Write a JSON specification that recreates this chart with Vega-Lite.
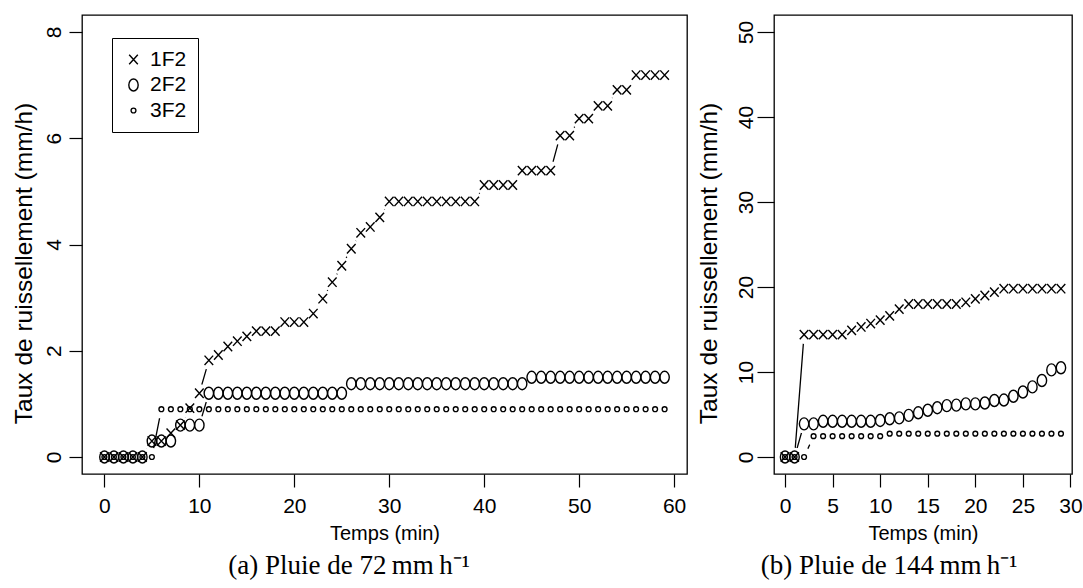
{
  "$schema": "https://vega.github.io/schema/vega-lite/v6.json",
  "background": "white",
  "padding": {"left": 10, "top": 14, "right": 6, "bottom": 6},
  "spacing": 7,
  "config": {
    "view": {"stroke": "black", "strokeWidth": 1.3},
    "font": "Liberation Sans",
    "axis": {"domain": false, "grid": false, "tickColor": "black", "tickWidth": 1.2, "tickSize": 13, "labelColor": "black", "labelFont": "Liberation Sans", "labelFontSize": 21, "titleFont": "Liberation Sans", "titleColor": "black", "titleFontWeight": "normal"},
    "title": {"font": "Liberation Serif", "fontSize": 27, "fontWeight": "normal", "color": "black", "orient": "bottom", "offset": 10, "frame": "bounds", "anchor": "middle"}
  },
  "resolve": {"scale": {"shape": "independent"}, "legend": {"shape": "independent"}},
  "datasets": {
    "a": [
      {"s": "1F2", "t": 0, "v": 0}, {"s": "1F2", "t": 1, "v": 0}, {"s": "1F2", "t": 2, "v": 0}, {"s": "1F2", "t": 3, "v": 0}, {"s": "1F2", "t": 4, "v": 0},
      {"s": "1F2", "t": 5, "v": 0.3}, {"s": "1F2", "t": 6, "v": 0.3}, {"s": "1F2", "t": 7, "v": 0.45}, {"s": "1F2", "t": 8, "v": 0.6}, {"s": "1F2", "t": 9, "v": 0.92},
      {"s": "1F2", "t": 10, "v": 1.2}, {"s": "1F2", "t": 11, "v": 1.82}, {"s": "1F2", "t": 12, "v": 1.92}, {"s": "1F2", "t": 13, "v": 2.08}, {"s": "1F2", "t": 14, "v": 2.18},
      {"s": "1F2", "t": 15, "v": 2.27}, {"s": "1F2", "t": 16, "v": 2.37}, {"s": "1F2", "t": 17, "v": 2.37}, {"s": "1F2", "t": 18, "v": 2.37}, {"s": "1F2", "t": 19, "v": 2.54},
      {"s": "1F2", "t": 20, "v": 2.54}, {"s": "1F2", "t": 21, "v": 2.54}, {"s": "1F2", "t": 22, "v": 2.7}, {"s": "1F2", "t": 23, "v": 2.98}, {"s": "1F2", "t": 24, "v": 3.29},
      {"s": "1F2", "t": 25, "v": 3.6}, {"s": "1F2", "t": 26, "v": 3.92}, {"s": "1F2", "t": 27, "v": 4.22}, {"s": "1F2", "t": 28, "v": 4.33}, {"s": "1F2", "t": 29, "v": 4.51},
      {"s": "1F2", "t": 30, "v": 4.81}, {"s": "1F2", "t": 31, "v": 4.81}, {"s": "1F2", "t": 32, "v": 4.81}, {"s": "1F2", "t": 33, "v": 4.81}, {"s": "1F2", "t": 34, "v": 4.81},
      {"s": "1F2", "t": 35, "v": 4.81}, {"s": "1F2", "t": 36, "v": 4.81}, {"s": "1F2", "t": 37, "v": 4.81}, {"s": "1F2", "t": 38, "v": 4.81}, {"s": "1F2", "t": 39, "v": 4.81},
      {"s": "1F2", "t": 40, "v": 5.12}, {"s": "1F2", "t": 41, "v": 5.12}, {"s": "1F2", "t": 42, "v": 5.12}, {"s": "1F2", "t": 43, "v": 5.12}, {"s": "1F2", "t": 44, "v": 5.39},
      {"s": "1F2", "t": 45, "v": 5.39}, {"s": "1F2", "t": 46, "v": 5.39}, {"s": "1F2", "t": 47, "v": 5.39}, {"s": "1F2", "t": 48, "v": 6.05}, {"s": "1F2", "t": 49, "v": 6.05},
      {"s": "1F2", "t": 50, "v": 6.37}, {"s": "1F2", "t": 51, "v": 6.37}, {"s": "1F2", "t": 52, "v": 6.61}, {"s": "1F2", "t": 53, "v": 6.61}, {"s": "1F2", "t": 54, "v": 6.91},
      {"s": "1F2", "t": 55, "v": 6.91}, {"s": "1F2", "t": 56, "v": 7.19}, {"s": "1F2", "t": 57, "v": 7.19}, {"s": "1F2", "t": 58, "v": 7.19}, {"s": "1F2", "t": 59, "v": 7.19},
      {"s": "2F2", "t": 0, "v": 0}, {"s": "2F2", "t": 1, "v": 0}, {"s": "2F2", "t": 2, "v": 0}, {"s": "2F2", "t": 3, "v": 0}, {"s": "2F2", "t": 4, "v": 0},
      {"s": "2F2", "t": 5, "v": 0.3}, {"s": "2F2", "t": 6, "v": 0.3}, {"s": "2F2", "t": 7, "v": 0.3}, {"s": "2F2", "t": 8, "v": 0.6}, {"s": "2F2", "t": 9, "v": 0.6},
      {"s": "2F2", "t": 10, "v": 0.6}, {"s": "2F2", "t": 11, "v": 1.2}, {"s": "2F2", "t": 12, "v": 1.2}, {"s": "2F2", "t": 13, "v": 1.2}, {"s": "2F2", "t": 14, "v": 1.2},
      {"s": "2F2", "t": 15, "v": 1.2}, {"s": "2F2", "t": 16, "v": 1.2}, {"s": "2F2", "t": 17, "v": 1.2}, {"s": "2F2", "t": 18, "v": 1.2}, {"s": "2F2", "t": 19, "v": 1.2},
      {"s": "2F2", "t": 20, "v": 1.2}, {"s": "2F2", "t": 21, "v": 1.2}, {"s": "2F2", "t": 22, "v": 1.2}, {"s": "2F2", "t": 23, "v": 1.2}, {"s": "2F2", "t": 24, "v": 1.2},
      {"s": "2F2", "t": 25, "v": 1.2}, {"s": "2F2", "t": 26, "v": 1.38}, {"s": "2F2", "t": 27, "v": 1.38}, {"s": "2F2", "t": 28, "v": 1.38}, {"s": "2F2", "t": 29, "v": 1.38},
      {"s": "2F2", "t": 30, "v": 1.38}, {"s": "2F2", "t": 31, "v": 1.38}, {"s": "2F2", "t": 32, "v": 1.38}, {"s": "2F2", "t": 33, "v": 1.38}, {"s": "2F2", "t": 34, "v": 1.38},
      {"s": "2F2", "t": 35, "v": 1.38}, {"s": "2F2", "t": 36, "v": 1.38}, {"s": "2F2", "t": 37, "v": 1.38}, {"s": "2F2", "t": 38, "v": 1.38}, {"s": "2F2", "t": 39, "v": 1.38},
      {"s": "2F2", "t": 40, "v": 1.38}, {"s": "2F2", "t": 41, "v": 1.38}, {"s": "2F2", "t": 42, "v": 1.38}, {"s": "2F2", "t": 43, "v": 1.38}, {"s": "2F2", "t": 44, "v": 1.38},
      {"s": "2F2", "t": 45, "v": 1.5}, {"s": "2F2", "t": 46, "v": 1.5}, {"s": "2F2", "t": 47, "v": 1.5}, {"s": "2F2", "t": 48, "v": 1.5}, {"s": "2F2", "t": 49, "v": 1.5},
      {"s": "2F2", "t": 50, "v": 1.5}, {"s": "2F2", "t": 51, "v": 1.5}, {"s": "2F2", "t": 52, "v": 1.5}, {"s": "2F2", "t": 53, "v": 1.5}, {"s": "2F2", "t": 54, "v": 1.5},
      {"s": "2F2", "t": 55, "v": 1.5}, {"s": "2F2", "t": 56, "v": 1.5}, {"s": "2F2", "t": 57, "v": 1.5}, {"s": "2F2", "t": 58, "v": 1.5}, {"s": "2F2", "t": 59, "v": 1.5},
      {"s": "3F2", "t": 0, "v": 0}, {"s": "3F2", "t": 1, "v": 0}, {"s": "3F2", "t": 2, "v": 0}, {"s": "3F2", "t": 3, "v": 0}, {"s": "3F2", "t": 4, "v": 0},
      {"s": "3F2", "t": 5, "v": 0}, {"s": "3F2", "t": 6, "v": 0.9}, {"s": "3F2", "t": 7, "v": 0.9}, {"s": "3F2", "t": 8, "v": 0.9}, {"s": "3F2", "t": 9, "v": 0.9},
      {"s": "3F2", "t": 10, "v": 0.9}, {"s": "3F2", "t": 11, "v": 0.9}, {"s": "3F2", "t": 12, "v": 0.9}, {"s": "3F2", "t": 13, "v": 0.9}, {"s": "3F2", "t": 14, "v": 0.9},
      {"s": "3F2", "t": 15, "v": 0.9}, {"s": "3F2", "t": 16, "v": 0.9}, {"s": "3F2", "t": 17, "v": 0.9}, {"s": "3F2", "t": 18, "v": 0.9}, {"s": "3F2", "t": 19, "v": 0.9},
      {"s": "3F2", "t": 20, "v": 0.9}, {"s": "3F2", "t": 21, "v": 0.9}, {"s": "3F2", "t": 22, "v": 0.9}, {"s": "3F2", "t": 23, "v": 0.9}, {"s": "3F2", "t": 24, "v": 0.9},
      {"s": "3F2", "t": 25, "v": 0.9}, {"s": "3F2", "t": 26, "v": 0.9}, {"s": "3F2", "t": 27, "v": 0.9}, {"s": "3F2", "t": 28, "v": 0.9}, {"s": "3F2", "t": 29, "v": 0.9},
      {"s": "3F2", "t": 30, "v": 0.9}, {"s": "3F2", "t": 31, "v": 0.9}, {"s": "3F2", "t": 32, "v": 0.9}, {"s": "3F2", "t": 33, "v": 0.9}, {"s": "3F2", "t": 34, "v": 0.9},
      {"s": "3F2", "t": 35, "v": 0.9}, {"s": "3F2", "t": 36, "v": 0.9}, {"s": "3F2", "t": 37, "v": 0.9}, {"s": "3F2", "t": 38, "v": 0.9}, {"s": "3F2", "t": 39, "v": 0.9},
      {"s": "3F2", "t": 40, "v": 0.9}, {"s": "3F2", "t": 41, "v": 0.9}, {"s": "3F2", "t": 42, "v": 0.9}, {"s": "3F2", "t": 43, "v": 0.9}, {"s": "3F2", "t": 44, "v": 0.9},
      {"s": "3F2", "t": 45, "v": 0.9}, {"s": "3F2", "t": 46, "v": 0.9}, {"s": "3F2", "t": 47, "v": 0.9}, {"s": "3F2", "t": 48, "v": 0.9}, {"s": "3F2", "t": 49, "v": 0.9},
      {"s": "3F2", "t": 50, "v": 0.9}, {"s": "3F2", "t": 51, "v": 0.9}, {"s": "3F2", "t": 52, "v": 0.9}, {"s": "3F2", "t": 53, "v": 0.9}, {"s": "3F2", "t": 54, "v": 0.9},
      {"s": "3F2", "t": 55, "v": 0.9}, {"s": "3F2", "t": 56, "v": 0.9}, {"s": "3F2", "t": 57, "v": 0.9}, {"s": "3F2", "t": 58, "v": 0.9}, {"s": "3F2", "t": 59, "v": 0.9}
    ],
    "b": [
      {"s": "1F2", "t": 0, "v": 0}, {"s": "1F2", "t": 1, "v": 0}, {"s": "1F2", "t": 2, "v": 14.4}, {"s": "1F2", "t": 3, "v": 14.4}, {"s": "1F2", "t": 4, "v": 14.4},
      {"s": "1F2", "t": 5, "v": 14.4}, {"s": "1F2", "t": 6, "v": 14.4}, {"s": "1F2", "t": 7, "v": 14.9}, {"s": "1F2", "t": 8, "v": 15.3}, {"s": "1F2", "t": 9, "v": 15.7},
      {"s": "1F2", "t": 10, "v": 16.1}, {"s": "1F2", "t": 11, "v": 16.6}, {"s": "1F2", "t": 12, "v": 17.4}, {"s": "1F2", "t": 13, "v": 18.0}, {"s": "1F2", "t": 14, "v": 18.0},
      {"s": "1F2", "t": 15, "v": 18.0}, {"s": "1F2", "t": 16, "v": 18.0}, {"s": "1F2", "t": 17, "v": 18.0}, {"s": "1F2", "t": 18, "v": 18.0}, {"s": "1F2", "t": 19, "v": 18.2},
      {"s": "1F2", "t": 20, "v": 18.6}, {"s": "1F2", "t": 21, "v": 19.0}, {"s": "1F2", "t": 22, "v": 19.4}, {"s": "1F2", "t": 23, "v": 19.8}, {"s": "1F2", "t": 24, "v": 19.8},
      {"s": "1F2", "t": 25, "v": 19.8}, {"s": "1F2", "t": 26, "v": 19.8}, {"s": "1F2", "t": 27, "v": 19.8}, {"s": "1F2", "t": 28, "v": 19.8}, {"s": "1F2", "t": 29, "v": 19.8},
      {"s": "2F2", "t": 0, "v": 0}, {"s": "2F2", "t": 1, "v": 0}, {"s": "2F2", "t": 2, "v": 3.9}, {"s": "2F2", "t": 3, "v": 3.9}, {"s": "2F2", "t": 4, "v": 4.2},
      {"s": "2F2", "t": 5, "v": 4.2}, {"s": "2F2", "t": 6, "v": 4.2}, {"s": "2F2", "t": 7, "v": 4.2}, {"s": "2F2", "t": 8, "v": 4.2}, {"s": "2F2", "t": 9, "v": 4.2},
      {"s": "2F2", "t": 10, "v": 4.3}, {"s": "2F2", "t": 11, "v": 4.5}, {"s": "2F2", "t": 12, "v": 4.6}, {"s": "2F2", "t": 13, "v": 4.9}, {"s": "2F2", "t": 14, "v": 5.2},
      {"s": "2F2", "t": 15, "v": 5.5}, {"s": "2F2", "t": 16, "v": 5.8}, {"s": "2F2", "t": 17, "v": 6.05}, {"s": "2F2", "t": 18, "v": 6.1}, {"s": "2F2", "t": 19, "v": 6.25},
      {"s": "2F2", "t": 20, "v": 6.25}, {"s": "2F2", "t": 21, "v": 6.35}, {"s": "2F2", "t": 22, "v": 6.65}, {"s": "2F2", "t": 23, "v": 6.7}, {"s": "2F2", "t": 24, "v": 7.15},
      {"s": "2F2", "t": 25, "v": 7.65}, {"s": "2F2", "t": 26, "v": 8.25}, {"s": "2F2", "t": 27, "v": 9.0}, {"s": "2F2", "t": 28, "v": 10.25}, {"s": "2F2", "t": 29, "v": 10.5},
      {"s": "3F2", "t": 0, "v": 0}, {"s": "3F2", "t": 1, "v": 0}, {"s": "3F2", "t": 2, "v": 0}, {"s": "3F2", "t": 3, "v": 2.45}, {"s": "3F2", "t": 4, "v": 2.45},
      {"s": "3F2", "t": 5, "v": 2.45}, {"s": "3F2", "t": 6, "v": 2.45}, {"s": "3F2", "t": 7, "v": 2.45}, {"s": "3F2", "t": 8, "v": 2.45}, {"s": "3F2", "t": 9, "v": 2.45},
      {"s": "3F2", "t": 10, "v": 2.45}, {"s": "3F2", "t": 11, "v": 2.75}, {"s": "3F2", "t": 12, "v": 2.75}, {"s": "3F2", "t": 13, "v": 2.75}, {"s": "3F2", "t": 14, "v": 2.75},
      {"s": "3F2", "t": 15, "v": 2.75}, {"s": "3F2", "t": 16, "v": 2.75}, {"s": "3F2", "t": 17, "v": 2.75}, {"s": "3F2", "t": 18, "v": 2.75}, {"s": "3F2", "t": 19, "v": 2.75},
      {"s": "3F2", "t": 20, "v": 2.75}, {"s": "3F2", "t": 21, "v": 2.75}, {"s": "3F2", "t": 22, "v": 2.75}, {"s": "3F2", "t": 23, "v": 2.75}, {"s": "3F2", "t": 24, "v": 2.75},
      {"s": "3F2", "t": 25, "v": 2.75}, {"s": "3F2", "t": 26, "v": 2.75}, {"s": "3F2", "t": 27, "v": 2.75}, {"s": "3F2", "t": 28, "v": 2.75}, {"s": "3F2", "t": 29, "v": 2.75}
    ]
  },
  "hconcat": [
    {
      "width": 605,
      "height": 459,
      "title": {"text": "(a) Pluie de 72\u2009mm\u2009h\u207b\u00b9"},
      "data": {"name": "a"},
      "encoding": {
        "x": {"field": "t", "type": "quantitative", "scale": {"domain": [-2.36, 61.36], "nice": false, "zero": false}, "axis": {"values": [0, 10, 20, 30, 40, 50, 60], "title": "Temps (min)", "labelFontSize": 21, "labelPadding": 8, "titleFontSize": 20, "titleFontWeight": "normal", "titlePadding": 7}},
        "y": {"field": "v", "type": "quantitative", "scale": {"domain": [-0.32, 8.32], "nice": false, "zero": false}, "axis": {"values": [0, 2, 4, 6, 8], "title": "Taux de ruissellement (mm/h)", "labelAngle": -90, "labelAlign": "center", "labelBaseline": "alphabetic", "labelFontSize": 21, "labelPadding": 9, "titleFontSize": 24.5, "titleFontWeight": "normal", "titlePadding": 7, "titleY": 248}}
      },
      "layer": [
        {"transform": [{"filter": "datum.s === '2F2'"}], "mark": {"type": "line", "color": "black", "strokeWidth": 1.3}, "encoding": {}},
        {"transform": [{"filter": "datum.s === '2F2'"}], "mark": {"type": "circle", "size": 346, "color": "white", "opacity": 1}, "encoding": {}},
        {"transform": [{"filter": "datum.s === '1F2'"}], "mark": {"type": "line", "color": "black", "strokeWidth": 1.3}, "encoding": {}},
        {"transform": [{"filter": "datum.s === '1F2'"}], "mark": {"type": "circle", "size": 346, "color": "white", "opacity": 1}, "encoding": {}},
        {"transform": [{"filter": "datum.s === '3F2'"}], "mark": {"type": "line", "color": "black", "strokeWidth": 1.3}, "encoding": {}},
        {"transform": [{"filter": "datum.s === '3F2'"}], "mark": {"type": "circle", "size": 346, "color": "white", "opacity": 1}, "encoding": {}},
        {"transform": [{"filter": "datum.s === '2F2' && datum.t >= 10 && datum.t <= 11"}], "mark": {"type": "line", "color": "black", "strokeWidth": 1.3}, "encoding": {}},
        {"transform": [{"filter": "datum.s === '2F2' && datum.t >= 10 && datum.t <= 11"}], "mark": {"type": "circle", "size": 346, "color": "white", "opacity": 1}, "encoding": {}},
        {
          "mark": {"type": "point", "filled": false, "stroke": "black", "strokeWidth": 1.4, "size": 144, "opacity": 1},
          "encoding": {
            "shape": {
              "field": "s", "type": "nominal",
              "scale": {"domain": ["1F2", "2F2", "3F2"], "range": ["M-0.72,-0.78L0.72,0.78M-0.72,0.78L0.72,-0.78", "M-0.78,0A0.78,1 0 1,0 0.78,0A0.78,1 0 1,0 -0.78,0", "M-0.4,0A0.4,0.4 0 1,0 0.4,0A0.4,0.4 0 1,0 -0.4,0"]},
              "legend": {"title": null, "orient": "none", "legendX": 30, "legendY": 23, "direction": "vertical", "strokeColor": "black", "fillColor": "white", "padding": 11, "cornerRadius": 0, "labelFont": "Liberation Sans", "labelFontSize": 21, "labelColor": "black", "labelOffset": 6, "rowPadding": 3.5, "symbolSize": 144, "symbolStrokeColor": "black", "symbolStrokeWidth": 1.4, "symbolFillColor": "transparent"}
            }
          }
        }
      ]
    },
    {
      "width": 298,
      "height": 459,
      "title": {"text": "(b) Pluie de 144\u2009mm\u2009h\u207b\u00b9"},
      "data": {"name": "b"},
      "encoding": {
        "x": {"field": "t", "type": "quantitative", "scale": {"domain": [-1.16, 30.16], "nice": false, "zero": false}, "axis": {"values": [0, 5, 10, 15, 20, 25, 30], "title": "Temps (min)", "labelFontSize": 21, "labelPadding": 8, "titleFontSize": 20, "titleFontWeight": "normal", "titlePadding": 7}},
        "y": {"field": "v", "type": "quantitative", "scale": {"domain": [-2, 52], "nice": false, "zero": false}, "axis": {"values": [0, 10, 20, 30, 40, 50], "title": "Taux de ruissellement (mm/h)", "labelAngle": -90, "labelAlign": "center", "labelBaseline": "alphabetic", "labelFontSize": 21, "tickSize": 17, "labelPadding": 5, "titleFontSize": 24.5, "titleFontWeight": "normal", "titlePadding": 14, "titleY": 248}}
      },
      "layer": [
        {"transform": [{"filter": "datum.s === '2F2'"}], "mark": {"type": "line", "color": "black", "strokeWidth": 1.3}, "encoding": {}},
        {"transform": [{"filter": "datum.s === '2F2'"}], "mark": {"type": "circle", "size": 346, "color": "white", "opacity": 1}, "encoding": {}},
        {"transform": [{"filter": "datum.s === '1F2'"}], "mark": {"type": "line", "color": "black", "strokeWidth": 1.3}, "encoding": {}},
        {"transform": [{"filter": "datum.s === '1F2'"}], "mark": {"type": "circle", "size": 346, "color": "white", "opacity": 1}, "encoding": {}},
        {"transform": [{"filter": "datum.s === '3F2'"}], "mark": {"type": "line", "color": "black", "strokeWidth": 1.3}, "encoding": {}},
        {"transform": [{"filter": "datum.s === '3F2'"}], "mark": {"type": "circle", "size": 346, "color": "white", "opacity": 1}, "encoding": {}},
        {
          "mark": {"type": "point", "filled": false, "stroke": "black", "strokeWidth": 1.4, "size": 144, "opacity": 1},
          "encoding": {
            "shape": {
              "field": "s", "type": "nominal",
              "scale": {"domain": ["1F2", "2F2", "3F2"], "range": ["M-0.72,-0.78L0.72,0.78M-0.72,0.78L0.72,-0.78", "M-0.78,0A0.78,1 0 1,0 0.78,0A0.78,1 0 1,0 -0.78,0", "M-0.4,0A0.4,0.4 0 1,0 0.4,0A0.4,0.4 0 1,0 -0.4,0"]},
              "legend": null
            }
          }
        }
      ]
    }
  ]
}
